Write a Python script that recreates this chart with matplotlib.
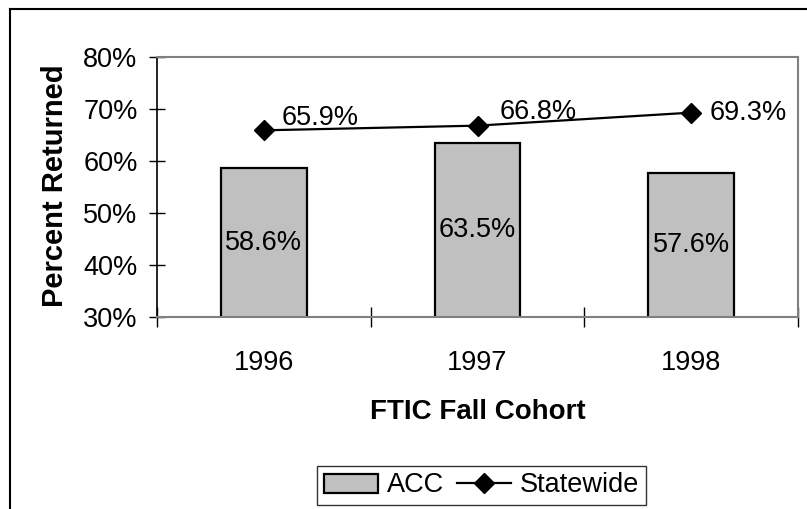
import matplotlib
matplotlib.use("Agg")
import matplotlib.pyplot as plt
from matplotlib.lines import Line2D
import numpy as np

# ---- data ----
years = ["1996", "1997", "1998"]
acc = [58.6, 63.5, 57.6]
statewide = [65.9, 66.8, 69.3]
y_ticks = [30, 40, 50, 60, 70, 80]

plt.rcParams['font.family'] = ['Liberation Sans', 'DejaVu Sans']
FS = 19.5

W, H = 807, 509
fig = plt.figure(figsize=(W / 100, H / 100), dpi=100)
ax = fig.add_axes([157 / W, 1 - 317 / H, (798 - 157) / W, (317 - 57) / H])

x = np.arange(len(years))
bars = ax.bar(x, acc, width=0.4, bottom=0, color="#C0C0C0", edgecolor="black",
              linewidth=1.6, label="ACC", zorder=2)
for xi, v in zip(x, acc):
    ax.text(xi, (v + y_ticks[0]) / 2, f"{v:.1f}%", ha="center", va="center",
            fontsize=FS, zorder=4)

line, = ax.plot(x, statewide, color="black", linewidth=1.6, marker="D",
                markersize=10, label="Statewide", zorder=3)
label_offsets = [(13, 9), (16, 10), (13, 0)]
for xi, v, off in zip(x, statewide, label_offsets):
    ax.annotate(f"{v:.1f}%", (xi, v), xytext=off, textcoords="offset points",
                ha="left", va="center", fontsize=FS, zorder=4)

ax.set_xlim(-0.5, 2.5)
ax.set_ylim(y_ticks[0], y_ticks[-1])
ax.set_yticks(y_ticks)
ax.set_yticklabels([f"{t}%" for t in y_ticks], fontsize=FS)
ax.tick_params(axis="y", direction="inout", length=12, width=1, pad=8)
ax.set_xticks(x)
ax.set_xticklabels(years, fontsize=FS)
ax.tick_params(axis="x", which="major", length=0, pad=24)
ax.set_xticks(np.arange(-0.5, len(years), 1.0), minor=True)
ax.tick_params(axis="x", which="minor", direction="inout", length=14, width=1)

for s in ["top", "right", "bottom"]:
    ax.spines[s].set_color("#808080")
    ax.spines[s].set_linewidth(1.5)
ax.spines["left"].set_color("black")
ax.spines["left"].set_linewidth(1.2)

fig.text(55 / W, 1 - 186 / H, "Percent Returned", rotation=90, ha="center",
         va="center", fontsize=21, fontweight="bold")
fig.text(477.5 / W, 1 - 412 / H, "FTIC Fall Cohort", ha="center", va="center",
         fontsize=20, fontweight="bold")

leg = fig.legend([bars, line], ["ACC", "Statewide"], loc="center",
                 bbox_to_anchor=(481.5 / W, 1 - 485.5 / H),
                 bbox_transform=fig.transFigure, ncol=2, fontsize=FS,
                 frameon=True, fancybox=False, handlelength=2.0,
                 handletextpad=0.3, columnspacing=0.5, borderpad=0.25,
                 borderaxespad=0)
leg.get_frame().set_edgecolor("black")
leg.get_frame().set_linewidth(1.0)

# outer chart frame
fig.add_artist(Line2D([10 / W, 1.0], [1 - 8.5 / H, 1 - 8.5 / H],
                      transform=fig.transFigure, color="black", linewidth=1.5))
fig.add_artist(Line2D([10 / W, 10 / W], [1 - 8.5 / H, 0],
                      transform=fig.transFigure, color="black", linewidth=1.5))

fig.savefig("out.png", dpi=100)
